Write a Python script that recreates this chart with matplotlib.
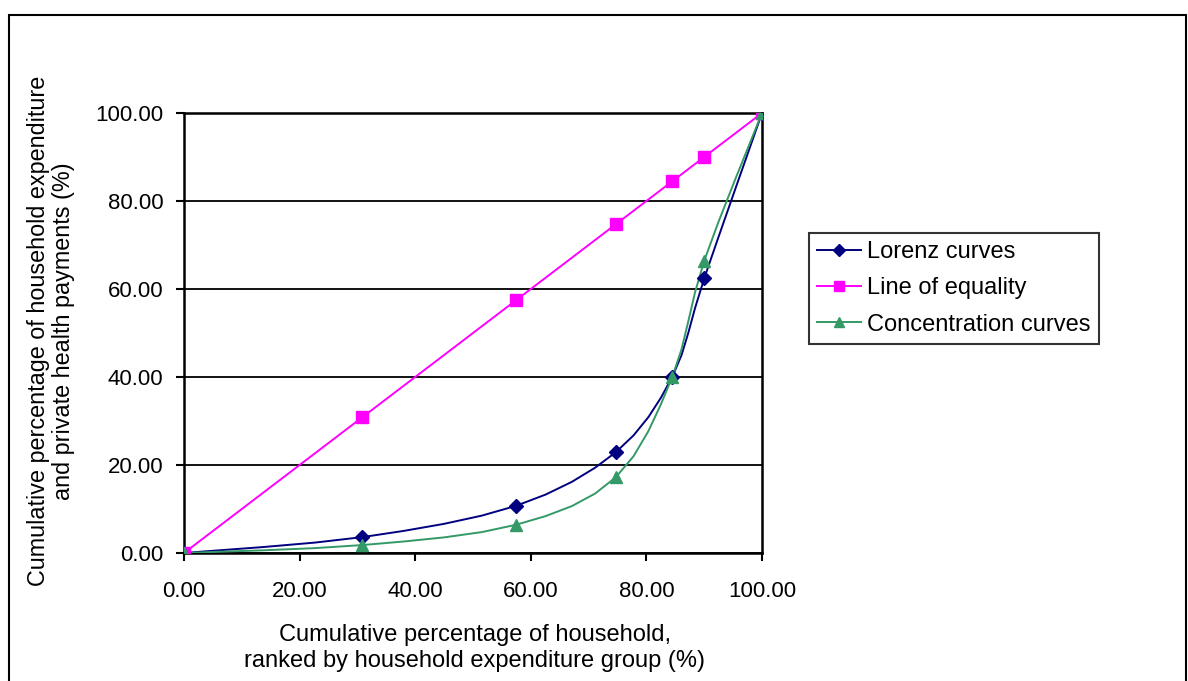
import numpy as np
import matplotlib
matplotlib.use("Agg")
import matplotlib.pyplot as plt
from matplotlib.patches import Rectangle

# ---- data ----
x_pct = [0.0, 30.8, 57.4, 74.7, 84.5, 90.0, 100.0]
lorenz = [0.0, 3.6, 10.7, 22.9, 40.1, 62.4, 100.0]
equality = [0.0, 30.8, 57.4, 74.7, 84.5, 90.0, 100.0]
concentration = [0.0, 1.8, 6.4, 17.2, 40.1, 66.4, 100.0]

series_names = ["Lorenz curves", "Line of equality", "Concentration curves"]
x_ticks = [0, 20, 40, 60, 80, 100]
y_ticks = [0, 20, 40, 60, 80, 100]
x_label = "Cumulative percentage of household,\nranked by household expenditure group (%)"
y_label = "Cumulative percentage of household expenditure\nand private health payments (%)"


def smooth(xs, ys, n=5):
    """Excel-style smoothed line: cubic Bezier through points (tension 1/6),
    drawn as a coarse polyline like Excel does."""
    p = np.column_stack([xs, ys]).astype(float)
    out = [p[0]]
    for i in range(len(p) - 1):
        p0 = p[i - 1] if i > 0 else p[i]
        p1 = p[i]
        p2 = p[i + 1]
        p3 = p[i + 2] if i + 2 < len(p) else p[i + 1]
        c1 = p1 + (p2 - p0) / 6.0
        c2 = p2 - (p3 - p1) / 6.0
        t = np.linspace(0, 1, n)[1:, None]
        seg = ((1 - t) ** 3) * p1 + 3 * ((1 - t) ** 2) * t * c1 + 3 * (1 - t) * t ** 2 * c2 + t ** 3 * p2
        out.extend(seg)
    out = np.array(out)
    return out[:, 0], out[:, 1]


plt.rcParams['font.family'] = ['Liberation Sans', 'DejaVu Sans']

W, H = 1188, 681
fig = plt.figure(figsize=(W / 100, H / 100), dpi=100)
ax = fig.add_axes([184 / W, 1 - 553 / H, (762 - 184) / W, (553 - 113) / H])

colors = ["#000080", "#FF00FF", "#339966"]
markers = ["D", "s", "^"]
msizes = [7, 8, 9]
data = [lorenz, equality, concentration]
for ys, c, m, ms, name in zip(data, colors, markers, msizes, series_names):
    sx, sy = smooth(x_pct, ys)
    ax.plot(sx, sy, color=c, lw=1.4, zorder=3)
    ax.plot(x_pct, ys, linestyle="none", marker=m, ms=ms, color=c, zorder=4)
    ax.plot([], [], color=c, lw=1.4, marker=m, ms=ms * 0.85, label=name)

ax.set_xlim(0, 100)
ax.set_ylim(0, 100)
ax.set_xticks(x_ticks)
ax.set_yticks(y_ticks)
ax.set_xticklabels([f"{v:.2f}" for v in x_ticks], fontsize=16)
ax.set_yticklabels([f"{v:.2f}" for v in y_ticks], fontsize=16)
ax.tick_params(axis="both", direction="out", length=6, width=1.5, colors="black")
ax.tick_params(axis="x", pad=14)
ax.tick_params(axis="y", pad=9)
ax.grid(axis="y", color="black", lw=1.3)
ax.set_axisbelow(True)
for s in ax.spines.values():
    s.set_linewidth(1.8)
    s.set_color("black")

fig.text(475 / W, 1 - 648 / H, x_label, fontsize=17, ha="center", va="center",
         linespacing=1.2, multialignment="center")
fig.text(51 / W, 1 - 331 / H, y_label, fontsize=16.8, ha="center", va="center",
         rotation=90, linespacing=1.08, multialignment="center")

leg = ax.legend(loc="upper left", bbox_to_anchor=(809 / W, 1 - 233 / H),
                bbox_transform=fig.transFigure, fontsize=17, frameon=True,
                fancybox=False, edgecolor="black", handlelength=1.85,
                handletextpad=0.25, labelspacing=0.6, borderpad=0.35, borderaxespad=0)
leg.get_frame().set_linewidth(1.5)

fig.patches.append(Rectangle((9 / W, -0.02), (1186 - 9) / W, 1.02 - 15 / H,
                             transform=fig.transFigure, fill=False,
                             edgecolor="black", lw=1.5))

fig.savefig("out.png", dpi=100)
